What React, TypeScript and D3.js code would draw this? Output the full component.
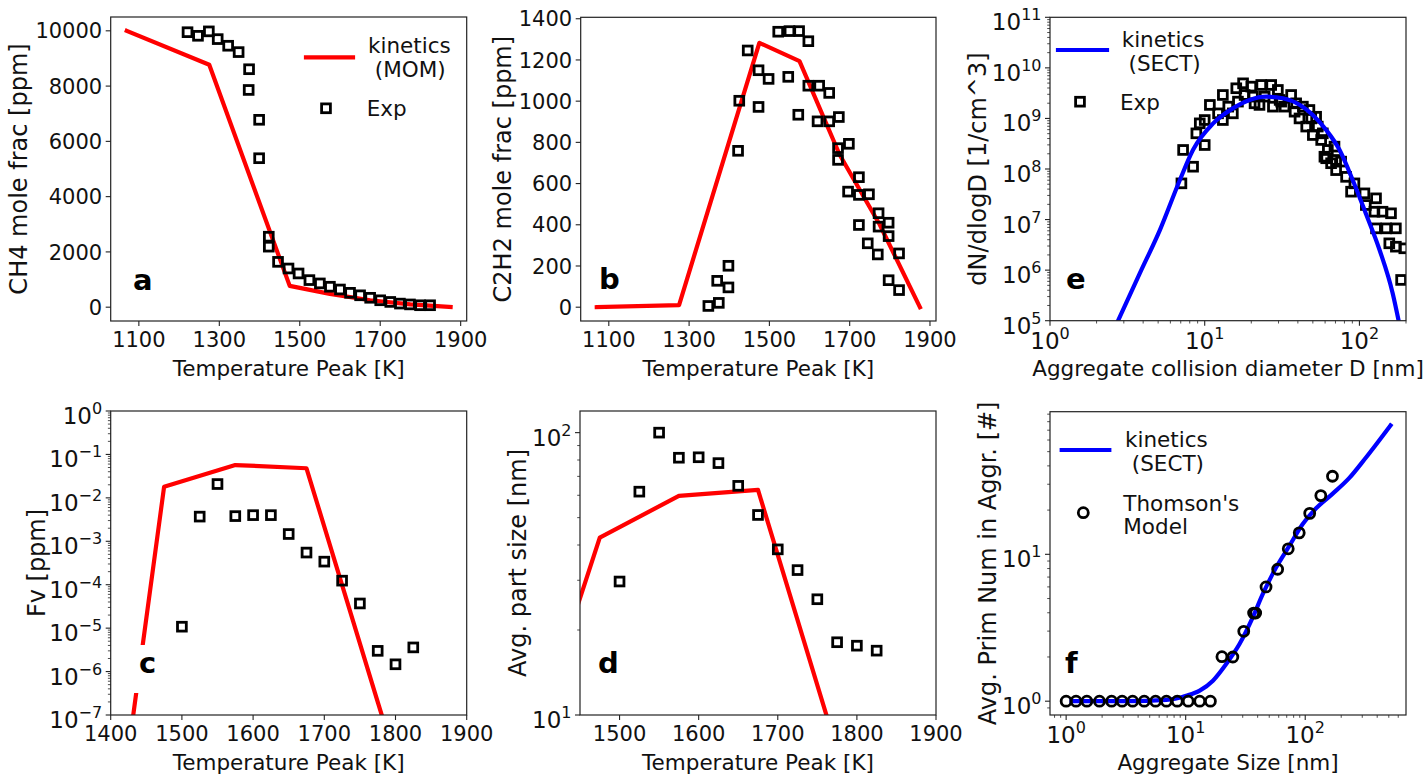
import React from 'react';
import * as d3 from 'd3';

const FONT = "'DejaVu Sans', sans-serif";
const TICK_FS = 21;
const LOG_FS = 23;
const SUP_FS = 16;
const XLAB_FS = 21.5;
const YLAB_FS = 24;
const LEG_FS = 21.5;
const RED = '#ff0000';
const BLUE = '#0000ff';

// ---------------- data ----------------
// model (kinetics) temperatures, panels a-d
const kinT = [1070, 1275, 1475, 1575, 1675, 1775, 1875];
const ch4Kinetics = [10000, 8770, 770, 480, 250, 100, 10];
const c2h2Kinetics = [0, 10, 1283, 1194, 740, 400, 0];
const fvKinetics = [1e-30, 1e-26, 0.018, 0.057, 0.048, 2e-7, 1e-12];
const sizeKinetics = [0.3, 0.81, 42.5, 59.7, 62.7, 7.5, 1];

// panel a experiment
const ch4ExpT = [1221, 1247, 1274, 1296, 1322, 1348, 1374, 1373, 1399, 1399, 1423, 1423, 1446, 1472, 1497, 1524, 1550, 1575, 1600, 1625, 1650, 1675, 1700, 1725, 1749, 1774, 1799, 1824];
const ch4Exp = [9950, 9820, 9980, 9700, 9460, 9230, 8610, 7860, 6780, 5390, 2550, 2190, 1640, 1400, 1220, 980, 860, 740, 640, 520, 430, 340, 250, 190, 130, 100, 70, 70];

// panel b experiment
const c2h2ExpT = [1348, 1374, 1370, 1398, 1398, 1422, 1425, 1446, 1473, 1473, 1498, 1522, 1550, 1574, 1597, 1547, 1572, 1597, 1624, 1649, 1620, 1649, 1673, 1671, 1671, 1698, 1723, 1696, 1723, 1748, 1772, 1797, 1723, 1772, 1797, 1745, 1770, 1823, 1797, 1823];
const c2h2Exp = [6, 21, 128, 96, 201, 759, 1002, 1246, 1150, 972, 1108, 1337, 1340, 1340, 1291, 1118, 934, 1075, 1075, 1040, 902, 902, 923, 772, 715, 793, 631, 561, 545, 548, 456, 410, 399, 391, 345, 310, 256, 261, 131, 83];

// panel c experiment
const fvExpT = [1500, 1525, 1550, 1575, 1600, 1625, 1650, 1675, 1700, 1725, 1750, 1775, 1800, 1825];
const fvExp = [1.08e-5, 3.7e-3, 0.0208, 3.8e-3, 4.0e-3, 4.0e-3, 1.47e-3, 5.5e-4, 3.4e-4, 1.24e-4, 3.7e-5, 3.0e-6, 1.47e-6, 3.6e-6];

// panel d experiment
const sizeExpT = [1500, 1525, 1550, 1575, 1600, 1625, 1650, 1675, 1700, 1725, 1750, 1775, 1800, 1825];
const sizeExp = [29.7, 61.8, 100, 81.5, 81.8, 78, 64.8, 51.1, 38.6, 32.6, 25.7, 18.1, 17.6, 16.9];

// panel e kinetics (SECT) and experiment
const psdKinD = [2.76, 3.81, 5.13, 6.9, 8.41, 11.3, 15.2, 19.5, 25.0, 32.0, 41.0, 50.0, 61.0, 74.3, 90.6, 110, 135, 164, 179];
const psdKin = [1.02e5, 8.7e5, 6.2e6, 6.0e7, 2.4e8, 7.9e8, 1.58e9, 2.32e9, 2.69e9, 2.51e9, 1.86e9, 1.17e9, 5.9e8, 2.4e8, 6.0e7, 1.32e7, 2.5e6, 3.5e5, 1.02e5];
const psdExpD = [7.07, 7.25, 8.41, 8.83, 9.29, 10.0, 10.0, 10.8, 12.2, 13.1, 13.1, 14.2, 15.2, 16.0, 16.4, 17.7, 18.1, 20.0, 20.5, 21.0, 22.6, 23.2, 24.4, 26.9, 27.6, 29.7, 30.5, 31.2, 32.8, 36.2, 38.1, 39.0, 41.0, 43.1, 45.3, 47.5, 48.8, 50.0, 52.5, 53.8, 56.6, 58.0, 59.4, 61.0, 62.5, 65.6, 69.0, 70.7, 70.7, 76.2, 82.0, 88.3, 92.8, 107.7, 110, 125, 128, 128, 141, 149, 156, 160, 172, 172, 186, 195];
const psdExp = [5.2e7, 2.38e8, 1.11e8, 5.07e8, 8.0e8, 2.98e8, 9.3e8, 1.85e9, 1.26e9, 2.91e9, 9.3e8, 1.71e9, 1.26e9, 3.95e9, 2.15e9, 4.95e9, 2.91e9, 4.26e9, 2.7e9, 1.99e9, 1.85e9, 4.59e9, 2.7e9, 4.59e9, 1.71e9, 3.66e9, 2.32e9, 2.15e9, 1.71e9, 2.91e9, 1.36e9, 1.99e9, 1.0e9, 1.71e9, 6.9e8, 1.47e9, 1.0e9, 4.7e8, 1.08e9, 6.9e8, 3.75e8, 5.07e8, 1.75e8, 1.63e8, 2.38e8, 1.3e8, 2.77e8, 1.51e8, 9.5e7, 1.4e8, 7.0e7, 3.56e7, 5.2e7, 3.3e7, 1.94e7, 1.43e7, 2.63e7, 6.7e6, 1.43e7, 6.7e6, 3.39e6, 1.33e7, 6.7e6, 2.91e6, 6.4e5, 2.7e6];

// panel f kinetics (SECT) and Thomson's model
const primKinD = [1.11, 3.2, 6.9, 10.1, 13.1, 16.9, 21.8, 28.2, 36.4, 44.1, 57.0, 73.6, 95.0, 122.7, 169, 233, 320, 517];
const primKin = [1.0, 1.0, 1.02, 1.09, 1.18, 1.38, 1.79, 2.45, 3.72, 5.35, 8.12, 11.4, 16.0, 20.5, 25.8, 33.0, 45.3, 75.5];
const thomsonD = [1.0, 1.21, 1.49, 1.9, 2.4, 2.94, 3.6, 4.5, 5.6, 6.9, 8.5, 10.5, 13.1, 16.1, 20.1, 24.8, 30.6, 37.0, 38.5, 47, 58.8, 72.1, 89.1, 109, 135, 169];
const thomsonN = [1, 1, 1, 1, 1, 1, 1, 1, 1, 1, 1, 1, 1, 1, 2.01, 2.0, 2.99, 3.98, 3.98, 6.0, 7.91, 10.9, 14.0, 19.0, 25.1, 34.0];

// tick values
const tempTicksTop = [1100, 1300, 1500, 1700, 1900];
const ch4Ticks = [0, 2000, 4000, 6000, 8000, 10000];
const c2h2Ticks = [0, 200, 400, 600, 800, 1000, 1200, 1400];
const tempTicksC = [1400, 1500, 1600, 1700, 1800, 1900];
const tempTicksD = [1500, 1600, 1700, 1800, 1900];
const fvTicks = [1e-7, 1e-6, 1e-5, 1e-4, 1e-3, 1e-2, 1e-1, 1];
const psdTicks = [1e5, 1e6, 1e7, 1e8, 1e9, 1e10, 1e11];
const decTicks = [1, 10, 100];
const sizeTicks = [10, 100];
const primTicks = [1, 10];

// ---------------- helpers ----------------
function minorLog(lo: number, hi: number): number[] {
  const out: number[] = [];
  for (let d = Math.floor(Math.log10(lo)) - 1; d <= Math.ceil(Math.log10(hi)); d++) {
    for (let k = 2; k <= 9; k++) {
      const v = k * Math.pow(10, d);
      if (v >= lo * 0.9999 && v <= hi * 1.0001) out.push(v);
    }
  }
  return out;
}

function pow10(v: number) {
  const e = Math.round(Math.log10(v));
  return (
    <>
      <tspan>10</tspan>
      <tspan dy={-10} fontSize={SUP_FS}>{e < 0 ? `\u2212${-e}` : `${e}`}</tspan>
    </>
  );
}

type AxesProps = {
  id: string;
  x0: number; x1: number; y0: number; y1: number;
  xs: (v: number) => number; ys: (v: number) => number;
  xTicks: number[]; yTicks: number[];
  xLog?: boolean; yLog?: boolean;
  xMinor?: number[]; yMinor?: number[];
  xLabel: string; yLabel: string; yLabelX: number;
  letter: string; letterX: number; letterY: number; letterBox?: boolean;
  children?: React.ReactNode;
  legend?: React.ReactNode;
};

function Axes(p: AxesProps) {
  const cx = (p.x0 + p.x1) / 2;
  const cy = (p.y0 + p.y1) / 2;
  return (
    <g>
      <defs>
        <clipPath id={p.id}>
          <rect x={p.x0} y={p.y0} width={p.x1 - p.x0} height={p.y1 - p.y0} />
        </clipPath>
      </defs>
      <g clipPath={`url(#${p.id})`}>
        {p.children}
        {p.letterBox && <rect x={p.letterX - 8} y={p.letterY - 28} width={38} height={48} fill="#fff" />}
        <text x={p.letterX} y={p.letterY} fontSize={29} fontWeight="bold" fontFamily={FONT}>{p.letter}</text>
      </g>
      {p.legend}
      <rect x={p.x0} y={p.y0} width={p.x1 - p.x0} height={p.y1 - p.y0} fill="none" stroke="#222" strokeWidth={1.2} />
      {p.xTicks.map((v) => (
        <g key={'xt' + v}>
          <line x1={p.xs(v)} x2={p.xs(v)} y1={p.y1} y2={p.y1 + 5} stroke="#222" strokeWidth={1.1} />
          <text x={p.xs(v)} y={p.y1 + (p.xLog ? 28 : 25.5)} textAnchor="middle"
            fontSize={p.xLog ? LOG_FS : TICK_FS} fontFamily={FONT} fill="#111">
            {p.xLog ? pow10(v) : String(v)}
          </text>
        </g>
      ))}
      {(p.xMinor || []).map((v, i) => (
        <line key={'xm' + i} x1={p.xs(v)} x2={p.xs(v)} y1={p.y1} y2={p.y1 + 2.8} stroke="#222" strokeWidth={0.8} />
      ))}
      {p.yTicks.map((v) => (
        <g key={'yt' + v}>
          <line x1={p.x0 - 5} x2={p.x0} y1={p.ys(v)} y2={p.ys(v)} stroke="#222" strokeWidth={1.1} />
          <text x={p.x0 - 8.5} y={p.ys(v) + (p.yLog ? 13 : 7.6)} textAnchor="end"
            fontSize={p.yLog ? LOG_FS : TICK_FS} fontFamily={FONT} fill="#111">
            {p.yLog ? pow10(v) : String(v)}
          </text>
        </g>
      ))}
      {(p.yMinor || []).map((v, i) => (
        <line key={'ym' + i} x1={p.x0 - 2.8} x2={p.x0} y1={p.ys(v)} y2={p.ys(v)} stroke="#222" strokeWidth={0.8} />
      ))}
      <text x={cx} y={p.y1 + 55} textAnchor="middle" fontSize={XLAB_FS} fontFamily={FONT} fill="#111">{p.xLabel}</text>
      <text transform={`translate(${p.yLabelX},${cy}) rotate(-90)`} textAnchor="middle" dominantBaseline="central"
        fontSize={YLAB_FS} fontFamily={FONT} fill="#111">{p.yLabel}</text>
    </g>
  );
}

function Squares({ xs, ys, X, Y }: { xs: (v: number) => number; ys: (v: number) => number; X: number[]; Y: number[] }) {
  const s = 8.8;
  return (
    <g>
      {X.map((x, i) => (
        <rect key={i} x={xs(x) - s / 2} y={ys(Y[i]) - s / 2} width={s} height={s} fill="none" stroke="#000" strokeWidth={2.8} />
      ))}
    </g>
  );
}

function Line({ xs, ys, X, Y, color, smooth }: { xs: (v: number) => number; ys: (v: number) => number; X: number[]; Y: number[]; color: string; smooth?: boolean }) {
  const pts: [number, number][] = X.map((x, i) => [xs(x), ys(Y[i])]);
  const gen = d3.line().curve(smooth ? d3.curveMonotoneX : d3.curveLinear);
  return <path d={gen(pts) || ''} fill="none" stroke={color} strokeWidth={4.2} strokeLinejoin="round" strokeLinecap="square" />;
}

function LegendLine({ x1, x2, y, color, l1, l2, tx, ty }: { x1: number; x2: number; y: number; color: string; l1: string; l2: string; tx: number; ty: number }) {
  return (
    <g fontFamily={FONT} fontSize={LEG_FS} fill="#111">
      <line x1={x1} x2={x2} y1={y} y2={y} stroke={color} strokeWidth={4.2} strokeLinecap="square" />
      <text x={tx} y={ty}>{l1}</text>
      <text x={tx + 6.8} y={ty + 23.5}>{l2}</text>
    </g>
  );
}

export default function App() {
  const A = { x0: 110.7, x1: 466.7, y0: 17, y1: 321 };
  const axs = d3.scaleLinear().domain([1030, 1915]).range([A.x0, A.x1]);
  const ays = d3.scaleLinear().domain([-500, 10500]).range([A.y1, A.y0]);
  const B = { x0: 580.7, x1: 936, y0: 17.3, y1: 321 };
  const bxs = d3.scaleLinear().domain([1030, 1915]).range([B.x0, B.x1]);
  const bys = d3.scaleLinear().domain([-67, 1407]).range([B.y1, B.y0]);
  const E = { x0: 1050, x1: 1406, y0: 17.3, y1: 320.7 };
  const exs = d3.scaleLog().domain([1, 200]).range([E.x0, E.x1]);
  const eys = d3.scaleLog().domain([1e5, 1e11]).range([E.y1, E.y0]);
  const C = { x0: 110.7, x1: 466.7, y0: 411, y1: 715 };
  const cxs = d3.scaleLinear().domain([1400, 1900]).range([C.x0, C.x1]);
  const cys = d3.scaleLog().domain([1e-7, 1]).range([C.y1, C.y0]);
  const D = { x0: 580, x1: 936, y0: 411, y1: 715 };
  const dxs = d3.scaleLinear().domain([1450, 1900]).range([D.x0, D.x1]);
  const dys = d3.scaleLog().domain([10, 119.3]).range([D.y1, D.y0]);
  const F = { x0: 1050, x1: 1406, y0: 411.7, y1: 715 };
  const fDomX = [Math.pow(10, -0.135), Math.pow(10, 2.843)];
  const fDomY = [Math.pow(10, -0.094), Math.pow(10, 1.971)];
  const fxs = d3.scaleLog().domain(fDomX).range([F.x0, F.x1]);
  const fys = d3.scaleLog().domain(fDomY).range([F.y1, F.y0]);

  return (
    <svg width={1426} height={777} style={{ position: 'absolute', left: 0, top: 0, background: '#fff' }}>
      <rect x={0} y={0} width={1426} height={777} fill="#fff" />

      <Axes id="ca" {...A} xs={axs} ys={ays} xTicks={tempTicksTop} yTicks={ch4Ticks}
        xLabel="Temperature Peak [K]" yLabel="CH4 mole frac [ppm]" yLabelX={19}
        letter="a" letterX={133} letterY={290}
        legend={
          <g>
            <LegendLine x1={306} x2={353} y={57.3} color={RED} l1="kinetics" l2="(MOM)" tx={368} ty={53} />
            <rect x={326 - 4.4} y={108.3 - 4.4} width={8.8} height={8.8} fill="none" stroke="#000" strokeWidth={2.8} />
            <text x={366.7} y={116} fontFamily={FONT} fontSize={LEG_FS} fill="#111">Exp</text>
          </g>
        }>
        <Line xs={axs} ys={ays} X={kinT} Y={ch4Kinetics} color={RED} />
        <Squares xs={axs} ys={ays} X={ch4ExpT} Y={ch4Exp} />
      </Axes>

      <Axes id="cb" {...B} xs={bxs} ys={bys} xTicks={tempTicksTop} yTicks={c2h2Ticks}
        xLabel="Temperature Peak [K]" yLabel="C2H2 mole frac [ppm]" yLabelX={503}
        letter="b" letterX={599} letterY={288.5}>
        <Line xs={bxs} ys={bys} X={kinT} Y={c2h2Kinetics} color={RED} />
        <Squares xs={bxs} ys={bys} X={c2h2ExpT} Y={c2h2Exp} />
      </Axes>

      <Axes id="ce" {...E} xs={exs} ys={eys} xTicks={decTicks} yTicks={psdTicks} xLog yLog
        xMinor={minorLog(1, 200)} yMinor={minorLog(1e5, 1e11)}
        xLabel="Aggregate collision diameter D [nm]" yLabel="dN/dlogD [1/cm^3]" yLabelX={978}
        letter="e" letterX={1066} letterY={289}
        legend={
          <g>
            <LegendLine x1={1058} x2={1107} y={50} color={BLUE} l1="kinetics" l2="(SECT)" tx={1121.7} ty={47} />
            <rect x={1080 - 4.4} y={101.7 - 4.4} width={8.8} height={8.8} fill="none" stroke="#000" strokeWidth={2.8} />
            <text x={1120} y={109.5} fontFamily={FONT} fontSize={LEG_FS} fill="#111">Exp</text>
          </g>
        }>
        <Squares xs={exs} ys={eys} X={psdExpD} Y={psdExp} />
        <Line xs={exs} ys={eys} X={psdKinD} Y={psdKin} color={BLUE} smooth />
      </Axes>

      <Axes id="cc" {...C} xs={cxs} ys={cys} xTicks={tempTicksC} yTicks={fvTicks} yLog
        yMinor={minorLog(1e-7, 1)}
        xLabel="Temperature Peak [K]" yLabel="Fv [ppm]" yLabelX={37}
        letter="c" letterX={139} letterY={673} letterBox>
        <Line xs={cxs} ys={cys} X={kinT} Y={fvKinetics} color={RED} />
        <Squares xs={cxs} ys={cys} X={fvExpT} Y={fvExp} />
      </Axes>

      <Axes id="cd" {...D} xs={dxs} ys={dys} xTicks={tempTicksD} yTicks={sizeTicks} yLog
        yMinor={minorLog(10, 119.3)}
        xLabel="Temperature Peak [K]" yLabel="Avg. part size [nm]" yLabelX={518}
        letter="d" letterX={598} letterY={673}>
        <Line xs={dxs} ys={dys} X={kinT} Y={sizeKinetics} color={RED} />
        <Squares xs={dxs} ys={dys} X={sizeExpT} Y={sizeExp} />
      </Axes>

      <Axes id="cf" {...F} xs={fxs} ys={fys} xTicks={decTicks} yTicks={primTicks} xLog yLog
        xMinor={minorLog(fDomX[0], fDomX[1])} yMinor={minorLog(fDomY[0], fDomY[1])}
        xLabel="Aggregate Size [nm]" yLabel="Avg. Prim Num in Aggr. [#]" yLabelX={988}
        letter="f" letterX={1065} letterY={673}
        legend={
          <g>
            <LegendLine x1={1061.7} x2={1109.3} y={450} color={BLUE} l1="kinetics" l2="(SECT)" tx={1125} ty={447} />
            <circle cx={1083.3} cy={512.7} r={5} fill="none" stroke="#000" strokeWidth={2.8} />
            <text x={1123.3} y={510.5} fontFamily={FONT} fontSize={LEG_FS} fill="#111">Thomson's</text>
            <text x={1123.3} y={534} fontFamily={FONT} fontSize={LEG_FS} fill="#111">Model</text>
          </g>
        }>
        <Line xs={fxs} ys={fys} X={primKinD} Y={primKin} color={BLUE} smooth />
        {thomsonD.map((d, i) => (
          <circle key={i} cx={fxs(d)} cy={fys(thomsonN[i])} r={5} fill="none" stroke="#000" strokeWidth={2.8} />
        ))}
      </Axes>
    </svg>
  );
}
